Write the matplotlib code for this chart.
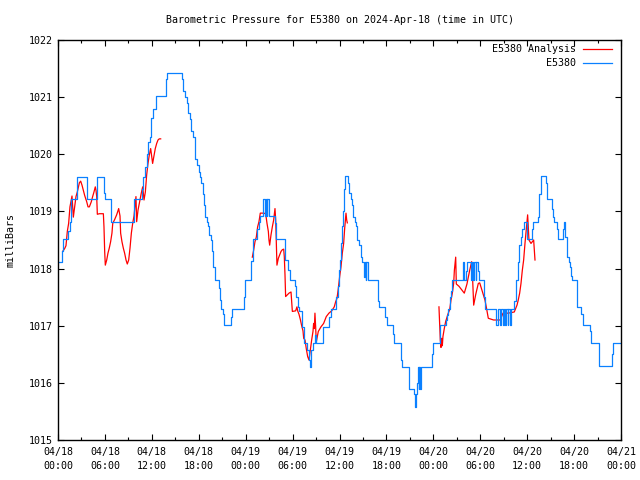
import numpy as np
import matplotlib
matplotlib.use("Agg")
import matplotlib.pyplot as plt
from matplotlib.lines import Line2D

nan = float("nan")

title = "Barometric Pressure for E5380 on 2024-Apr-18 (time in UTC)"
ylabel = "milliBars"
series_names = ["E5380 Analysis", "E5380"]

# hours since 2024-04-18 00:00 UTC
tick_hours = [0, 6, 12, 18, 24, 30, 36, 42, 48, 54, 60, 66, 72]
tick_labels = ["04/18\n00:00", "04/18\n06:00", "04/18\n12:00", "04/18\n18:00",
               "04/19\n00:00", "04/19\n06:00", "04/19\n12:00", "04/19\n18:00",
               "04/20\n00:00", "04/20\n06:00", "04/20\n12:00", "04/20\n18:00",
               "04/21\n00:00"]

# E5380 observations (stepped)
obs_hours = [0.0, 0.55, 0.62, 1.28, 1.5, 1.66, 2.43, 3.75, 5.0, 5.84, 6.0, 6.78,
             9.7, 10.7, 10.85, 11.17, 11.34, 11.51, 11.76, 11.93, 12.19, 12.5,
             13.85, 13.98, 15.85, 16.03, 16.28, 16.45, 16.62, 16.88, 17.05, 17.3,
             17.48, 17.56, 17.73, 17.99, 18.16, 18.33, 18.58, 18.67, 18.84, 19.01,
             19.18, 19.35, 19.52, 19.69, 19.86, 20.04, 20.6, 20.72, 20.88, 21.06,
             21.23, 22.1, 22.25, 23.75, 23.95, 24.62, 24.72, 24.94, 25.5, 25.7,
             25.87, 26.2, 26.45, 26.55, 26.7, 26.78, 27.0, 27.7, 27.92, 29.07,
             29.37, 29.63, 30.26, 30.48, 30.65, 30.82, 31.25, 31.42, 31.9, 32.1,
             32.27, 32.35, 32.61, 32.9, 33.05, 33.85, 34.72, 34.91, 35.59, 35.77,
             35.93, 36.1, 36.25, 36.38, 36.5, 36.6, 36.72, 37.05, 37.25, 37.43,
             37.6, 37.77, 37.94, 38.11, 38.28, 38.53, 38.71, 38.87, 39.1, 39.2,
             39.35, 39.45, 39.6, 40.92, 41.09, 41.86, 42.03, 42.8, 42.97, 43.82,
             43.99, 44.85, 44.93, 45.52, 45.61, 45.69, 45.8, 45.95, 46.05, 46.12,
             46.2, 46.35, 46.45, 47.8, 47.92, 48.8, 49.6, 49.74, 49.91, 50.09,
             50.26, 50.34, 51.8, 51.95, 52.2, 52.35, 52.8, 52.9, 53.1, 53.2, 53.4,
             53.5, 53.67, 53.84, 54.52, 54.6, 55.97, 56.05, 56.31, 56.5, 56.6,
             56.9, 57.0, 57.2, 57.3, 57.5, 57.6, 57.8, 57.9, 58.35, 58.53, 58.61,
             58.8, 58.95, 59.17, 59.4, 59.6, 59.93, 60.0, 60.65, 60.78, 61.38,
             61.55, 61.72, 61.81, 62.4, 62.49, 62.57, 63.17, 63.26, 63.43, 63.77,
             63.94, 64.62, 64.71, 64.8, 64.87, 65.05, 65.13, 65.31, 65.47, 65.64,
             65.73, 66.33, 66.41, 66.92, 67.09, 67.16, 68.03, 68.11, 68.2, 69.14,
             69.22, 70.84, 71.0, 72.0]
obs_values = [1018.11, 1018.31, 1018.52, 1018.65, 1018.81, 1019.21, 1019.61, 1019.21,
              1019.61, 1019.32, 1019.21, 1018.81, 1019.21, 1019.4, 1019.61, 1019.78,
              1020.0, 1020.21, 1020.31, 1020.63, 1020.79, 1021.02, 1021.31, 1021.42,
              1021.31, 1021.1, 1021.0, 1020.9, 1020.72, 1020.61, 1020.41, 1020.31,
              1020.21, 1019.92, 1019.82, 1019.69, 1019.61, 1019.5, 1019.3, 1019.11,
              1018.91, 1018.81, 1018.74, 1018.59, 1018.5, 1018.3, 1018.02, 1017.8,
              1017.66, 1017.45, 1017.3, 1017.21, 1017.01, 1017.15, 1017.3, 1017.5,
              1017.8, 1018.03, 1018.14, 1018.51, 1018.7, 1018.82, 1018.92, 1019.21,
              1018.92, 1019.21, 1018.92, 1019.21, 1018.92, 1018.8, 1018.51, 1018.15,
              1017.98, 1017.8, 1017.7, 1017.51, 1017.33, 1017.26, 1016.98, 1016.69,
              1016.58, 1016.4, 1016.28, 1016.58, 1016.69, 1016.84, 1016.69, 1016.98,
              1017.15, 1017.3, 1017.51, 1017.7, 1017.98, 1018.15, 1018.45, 1018.75,
              1019.0, 1019.4, 1019.62, 1019.5, 1019.33, 1019.21, 1019.11, 1018.9,
              1018.81, 1018.74, 1018.5, 1018.41, 1018.2, 1018.11, 1017.85, 1018.11,
              1017.8, 1018.11, 1017.8, 1017.44, 1017.33, 1017.16, 1017.01, 1016.86,
              1016.69, 1016.4, 1016.28, 1016.1, 1015.9, 1015.8, 1015.64, 1015.58,
              1015.8, 1016.0, 1016.28, 1015.9, 1016.28, 1015.9, 1016.28, 1016.5,
              1016.69, 1017.01, 1017.1, 1017.18, 1017.3, 1017.5, 1017.6, 1017.8,
              1018.11, 1017.8, 1017.95, 1018.11, 1017.8, 1018.11, 1017.8, 1018.11,
              1017.8, 1018.11, 1017.95, 1017.8, 1017.5, 1017.3, 1017.15, 1017.01,
              1017.3, 1017.01, 1017.3, 1017.01, 1017.3, 1017.01, 1017.3, 1017.01,
              1017.3, 1017.01, 1017.3, 1017.44, 1017.66, 1017.8, 1018.11, 1018.41,
              1018.56, 1018.7, 1018.81, 1018.7, 1018.51, 1018.7, 1018.81, 1018.91,
              1019.3, 1019.5, 1019.62, 1019.5, 1019.32, 1019.21, 1019.05, 1018.91,
              1018.81, 1018.7, 1018.52, 1018.7, 1018.81, 1018.7, 1018.55, 1018.41,
              1018.21, 1018.11, 1018.02, 1017.87, 1017.8, 1017.55, 1017.32, 1017.2,
              1017.12, 1017.01, 1016.9, 1016.82, 1016.7, 1016.5, 1016.29, 1016.5,
              1016.7, 1016.7]

# E5380 Analysis (NaN = gap)
ana_hours = [0.6, 0.85, 1.02, 1.19, 1.36, 1.53, 1.7, 1.79, 1.96, 2.13, 2.3, 2.47,
             2.73, 2.9, 3.07, 3.24, 3.41, 3.67, 3.84, 4.01, 4.26, 4.43, 4.6, 4.77,
             4.86, 4.95, 5.03, 5.29, 5.8, 5.88, 5.97, 6.05, 6.23, 6.39, 6.56, 6.73,
             6.9, 7.0, 7.25, 7.5, 7.76, 7.93, 8.01, 8.18, 8.35, 8.52, 8.7, 8.86,
             9.04, 9.21, 9.38, 9.55, 9.72, 9.89, 9.97, 10.06, 10.23, 10.4, 10.65,
             10.83, 11.0, 11.17, 11.34, 11.51, 11.68, 11.85, 12.1, 12.44, 12.62,
             12.79, 12.95, 13.13,
             18.0,
             24.85, 25.02, 25.19, 25.36, 25.53, 25.7, 25.87, 26.3, 26.56, 26.73,
             26.9, 26.98, 27.07, 27.24, 27.41, 27.58, 27.75, 27.84, 27.92, 28.0,
             28.18, 28.35, 28.52, 28.69, 28.86, 28.94, 29.03, 29.11, 29.54, 29.8,
             29.88, 29.97, 30.39, 30.56, 30.65, 30.82, 30.99, 31.16, 31.33, 31.42,
             31.59, 31.75, 31.93, 32.1, 32.27, 32.44, 32.61, 32.69, 32.78, 32.86,
             32.95, 33.03, 33.12, 33.29, 33.63, 33.97, 34.31, 34.65, 35.0, 35.33,
             35.51, 35.68, 35.85, 36.02, 36.19, 36.36, 36.53, 36.66, 36.83, 36.92,
             37.0,
             42.0,
             48.72, 48.89, 48.98, 49.06, 49.15, 49.23, 49.4, 49.57, 49.91, 50.09,
             50.26, 50.43, 50.6, 50.69, 50.86, 50.94, 51.28, 51.62, 51.96, 52.3,
             52.65, 52.9, 52.98, 53.16, 53.41, 53.75, 53.93, 54.26, 54.6, 54.77,
             55.03, 55.71, 56.56, 56.91, 57.58, 58.35, 58.7, 58.86, 59.04, 59.21,
             59.38, 59.55, 59.72, 59.89, 60.06, 60.23, 60.49, 60.83, 61.0]
ana_values = [1018.3, 1018.35, 1018.4, 1018.65, 1018.79, 1019.08, 1019.2, 1019.27,
              1018.9, 1019.08, 1019.26, 1019.34, 1019.5, 1019.53, 1019.46, 1019.37,
              1019.28, 1019.17, 1019.08, 1019.08, 1019.17, 1019.26, 1019.34, 1019.43,
              1019.37, 1019.26, 1018.95, 1018.96, 1018.96, 1018.73, 1018.3, 1018.06,
              1018.15, 1018.27, 1018.36, 1018.47, 1018.62, 1018.79, 1018.86, 1018.94,
              1019.05, 1018.92, 1018.62, 1018.47, 1018.36, 1018.27, 1018.15, 1018.08,
              1018.15, 1018.36, 1018.62, 1018.79, 1018.92, 1019.14, 1019.26, 1018.82,
              1019.02, 1019.14, 1019.32, 1019.43, 1019.2, 1019.34, 1019.64, 1019.84,
              1019.99, 1020.1, 1019.84, 1020.1, 1020.19, 1020.25, 1020.27, 1020.27,
              nan,
              1018.2, 1018.32, 1018.47, 1018.55, 1018.73, 1018.82, 1018.97, 1018.97,
              1018.96, 1018.79, 1018.65, 1018.5, 1018.41, 1018.59, 1018.73, 1018.85,
              1019.05, 1018.85, 1018.47, 1018.06, 1018.18, 1018.24, 1018.3, 1018.33,
              1018.34, 1018.21, 1017.89, 1017.51, 1017.57, 1017.59, 1017.44, 1017.25,
              1017.26, 1017.33, 1017.26, 1017.2, 1017.11, 1017.0, 1016.91, 1016.78,
              1016.75, 1016.6, 1016.46, 1016.4, 1016.58, 1016.75, 1016.9, 1017.04,
              1016.95, 1017.22, 1016.98, 1016.71, 1016.78, 1016.9, 1016.98, 1017.04,
              1017.16, 1017.22, 1017.26, 1017.33, 1017.42, 1017.48, 1017.65, 1017.86,
              1018.03, 1018.27, 1018.44, 1018.7, 1018.97, 1018.85, 1018.8,
              nan,
              1017.33, 1016.75, 1016.62, 1016.78, 1016.65, 1016.81, 1016.95, 1017.07,
              1017.22, 1017.28, 1017.45, 1017.57, 1017.74, 1017.97, 1018.2, 1017.73,
              1017.69, 1017.63, 1017.57, 1017.73, 1017.97, 1018.12, 1017.97, 1017.36,
              1017.54, 1017.74, 1017.75, 1017.6, 1017.45, 1017.33, 1017.13, 1017.1,
              1017.1, 1017.22, 1017.22, 1017.24, 1017.36, 1017.45, 1017.57, 1017.74,
              1017.97, 1018.15, 1018.44, 1018.7, 1018.94, 1018.5, 1018.44, 1018.5,
              1018.15]

red = "#ff0000"
blue = "#0a80ff"
mono = "DejaVu Sans Mono"
fs = 7.2

fig = plt.figure(figsize=(6.4, 4.8), dpi=100)
ax = fig.add_axes([58 / 640, 1 - 440 / 480, 563 / 640, 400 / 480])

ax.plot(ana_hours, ana_values, color=red, lw=0.9)
ax.plot(obs_hours, obs_values, color=blue, lw=0.9, drawstyle="steps-post")

ax.set_xlim(0, 72)
ax.set_ylim(1015, 1022)
ax.set_xticks(tick_hours)
ax.set_xticklabels(tick_labels, fontfamily=mono, fontsize=fs, linespacing=1.55)
ax.set_xticks(np.arange(3, 72, 6), minor=True)
ax.set_yticks(range(1015, 1023))
ax.set_yticklabels([str(v) for v in range(1015, 1023)], fontfamily=mono, fontsize=fs)
ax.tick_params(which="major", direction="in", length=4, width=0.8,
               top=True, right=True, pad=4)
ax.tick_params(which="minor", direction="in", length=2, width=0.8,
               top=True, right=False)
ax.tick_params(axis="x", pad=5)
for s in ax.spines.values():
    s.set_linewidth(1.0)

ax.set_title(title, fontfamily=mono, fontsize=fs, pad=12)
ax.set_ylabel(ylabel, fontfamily=mono, fontsize=fs, labelpad=9)

# gnuplot-style key (text right-aligned, sample at right)
for i, (name, col) in enumerate(zip(series_names, [red, blue])):
    yk = 0.9765 - i * 0.0335
    ax.text(0.920, yk, name, transform=ax.transAxes, ha="right", va="center",
            fontfamily=mono, fontsize=fs)
    ax.add_line(Line2D([0.9325, 0.984], [yk, yk], transform=ax.transAxes,
                       color=col, lw=0.9))

fig.savefig("out.png", dpi=100)
